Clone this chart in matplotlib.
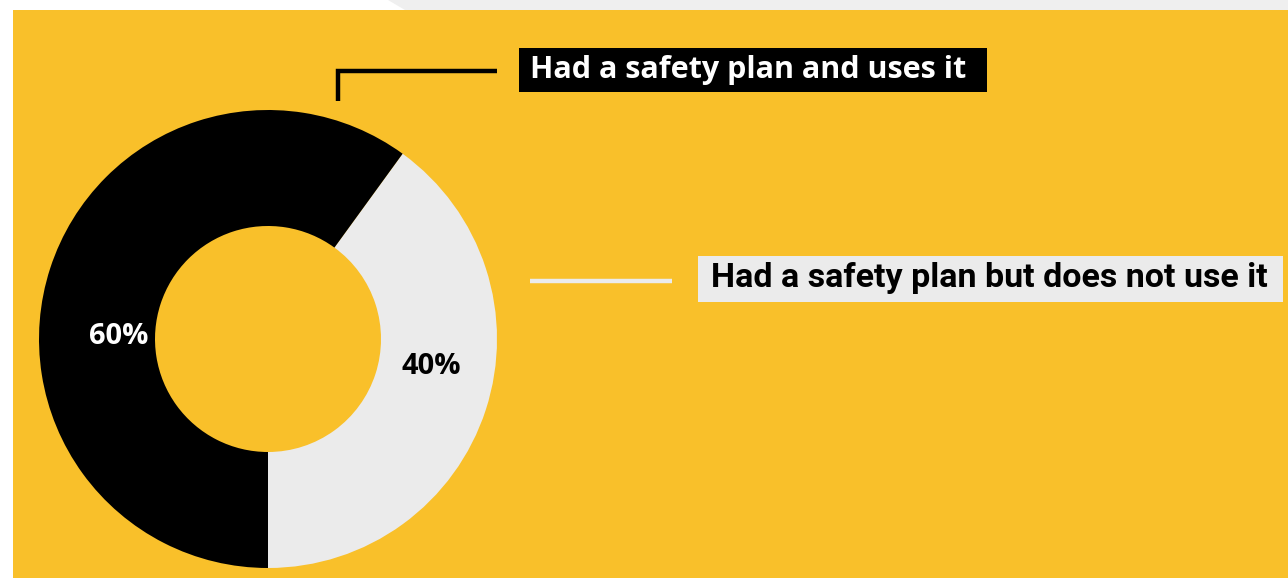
import matplotlib.pyplot as plt
from matplotlib.patches import Rectangle, Polygon

W, H = 1288, 578

labels = ["Had a safety plan but does not use it", "Had a safety plan and uses it"]
shares = [40, 60]
pct_labels = ["40%", "60%"]

yellow = "#f9c02a"
light = "#ebebeb"
colors = [light, "black"]

fig = plt.figure(figsize=(W / 100, H / 100), dpi=100)
ax = fig.add_axes([0, 0, 1, 1])

# page background: white strip on the left, grey band on top, yellow panel
ax.add_patch(Polygon([(388, H), (W, H), (W, H - 10), (405, H - 10)],
                     closed=True, color="#efefef", lw=0))
ax.add_patch(Rectangle((13, 0), W - 13, H - 10, color=yellow, lw=0))

cx, cy, r = 268, H - 339, 229
ax.pie(shares, colors=colors, startangle=-90, counterclock=True,
       radius=r, center=(cx, cy), wedgeprops=dict(width=116, linewidth=0))

font = ["Open Sans", "DejaVu Sans"]
ax.text(119, H - 337, pct_labels[1], color="white", fontsize=21,
        fontweight="bold", family=font, ha="center", va="center")
ax.text(431, H - 366, pct_labels[0], color="black", fontsize=21,
        fontweight="bold", family=font, ha="center", va="center")

# leader line for "uses it"
ax.plot([338, 338, 497], [H - 101, H - 71, H - 71], color="black",
        lw=3.2, solid_capstyle="butt", solid_joinstyle="miter")
ax.add_patch(Rectangle((519, H - 92), 468, 44, color="black", lw=0))
ax.text(530, H - 70, labels[1], color="white", fontsize=22,
        fontweight="bold", family=font, ha="left", va="center")

# leader line for "does not use it"
ax.plot([530, 672], [H - 281, H - 281], color=light, lw=3.2,
        solid_capstyle="butt")
ax.add_patch(Rectangle((698, H - 302), 585, 46, color=light, lw=0))
ax.text(711, H - 278, labels[0], color="black", fontsize=24.5,
        fontweight="bold", family=["Roboto", "DejaVu Sans"], ha="left",
        va="center")

ax.set_xlim(0, W)
ax.set_ylim(0, H)
ax.set_aspect("auto")
ax.axis("off")

fig.savefig("out.png", dpi=100, facecolor="white")
